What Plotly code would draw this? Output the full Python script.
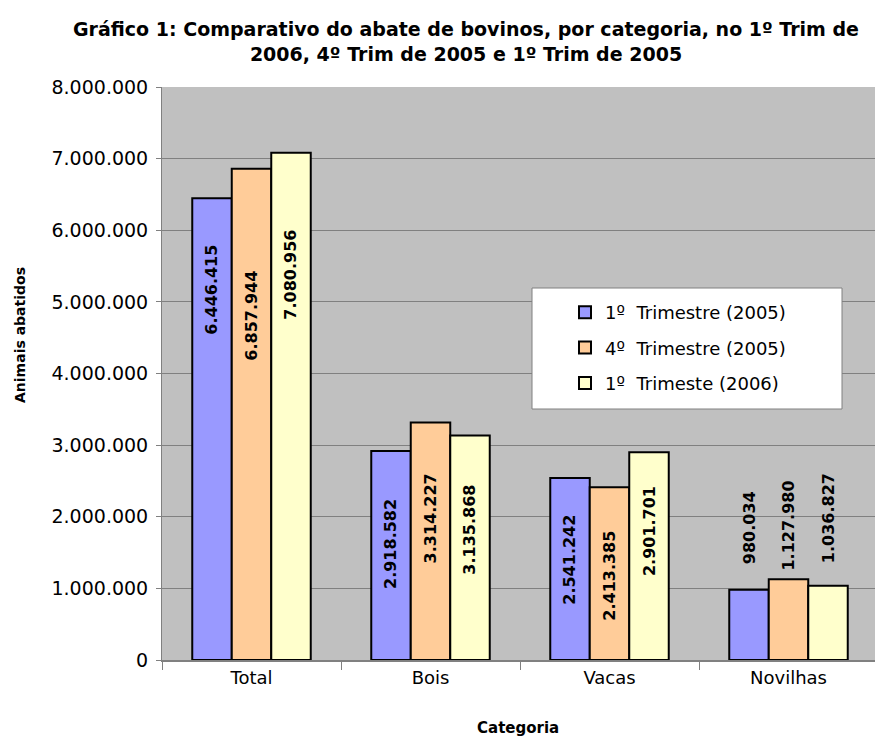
import plotly.graph_objects as go

categories = ["Total", "Bois", "Vacas", "Novilhas"]
series_names = ["1º  Trimestre (2005)", "4º  Trimestre (2005)", "1º  Trimeste (2006)"]
q1_2005 = [6446415, 2918582, 2541242, 980034]
q4_2005 = [6857944, 3314227, 2413385, 1127980]
q1_2006 = [7080956, 3135868, 2901701, 1036827]
colors = ["#9999FF", "#FFCC99", "#FFFFCC"]
y_ticks = [0, 1000000, 2000000, 3000000, 4000000, 5000000, 6000000, 7000000, 8000000]

# vertical centre of each value label (as placed in the reference), per series
label_centres = [
    [5170000, 1620000, 1400000, 1840000],
    [4800000, 1970000, 1170000, 1870000],
    [5380000, 1820000, 1800000, 1980000],
]

series = [q1_2005, q4_2005, q1_2006]
bargap = 0.338

W, H = 875, 738
PL, PR, PT, PB = 162, 875, 87, 660   # plot area in page pixels
px_per_cat = 179.0

def px(xp):
    return (xp - PL) / (PR - PL)

def py(yp):
    return (PB - yp) / (PB - PT)

fig = go.Figure()
for i, (name, vals, col) in enumerate(zip(series_names, series, colors)):
    fig.add_trace(go.Bar(
        x=categories, y=vals, name=name, legendgroup=f"g{i}",
        marker=dict(color=col, line=dict(color="black", width=2)),
    ))

def fmt(v):
    return f"{v:,}".replace(",", ".")

bw = (1 - bargap) / 3
for si, vals in enumerate(series):
    for ci, v in enumerate(vals):
        fig.add_annotation(
            x=ci + (si - 1) * bw, y=label_centres[si][ci], xref="x", yref="y",
            text="<b>" + fmt(v) + "</b>", textangle=-90, showarrow=False,
            font=dict(family="DejaVu Sans", size=16, color="black"),
        )

# axis titles
fig.add_annotation(
    x=px(20), y=py(335), xref="paper", yref="paper", text="<b>Animais abatidos</b>",
    textangle=-90, showarrow=False, xanchor="center", yanchor="middle",
    font=dict(family="DejaVu Sans", size=14, color="black"),
)
fig.add_annotation(
    x=px(518), y=py(728), xref="paper", yref="paper", text="<b>Categoria</b>",
    showarrow=False, xanchor="center", yanchor="middle",
    font=dict(family="DejaVu Sans", size=15, color="black"),
)

# legend box
fig.add_shape(
    type="rect", xref="paper", yref="paper",
    x0=px(532), x1=px(842), y0=py(409), y1=py(288),
    fillcolor="white", line=dict(color="#808080", width=1), layer="above",
)

x_right = 3.5 - (878 - PR) / px_per_cat

fig.update_layout(
    width=W, height=H,
    paper_bgcolor="white", plot_bgcolor="#C0C0C0",
    margin=dict(l=PL, r=W - PR, t=PT, b=H - PB, autoexpand=False),
    separators=",.",
    barmode="group", bargap=bargap, bargroupgap=0,
    title=dict(
        text="<b>Gráfico 1: Comparativo do abate de bovinos, por categoria, no 1º Trim de<br>2006, 4º Trim de 2005 e 1º Trim de 2005</b>",
        x=466 / W, xanchor="center", y=1 - 36 / H, yanchor="top",
        font=dict(family="DejaVu Sans", size=19, color="black"),
    ),
    yaxis=dict(
        range=[0, 8000000], tickvals=y_ticks, tickformat=",d",
        showgrid=True, gridcolor="#808080", gridwidth=1,
        ticks="outside", ticklen=5, tickcolor="#808080",
        showline=True, linecolor="#808080", linewidth=1,
        tickfont=dict(family="DejaVu Sans", size=19, color="black"),
        ticklabelstandoff=4,
        zeroline=False,
    ),
    xaxis=dict(
        range=[-0.5, x_right],
        tickson="boundaries", ticks="outside", ticklen=8, tickcolor="#808080",
        showline=True, linecolor="#808080", linewidth=2,
        tickfont=dict(family="DejaVu Sans", size=18, color="black"),
    ),
    legend=dict(
        x=px(565), y=py(294), xanchor="left", yanchor="top",
        bgcolor="rgba(0,0,0,0)", borderwidth=0,
        font=dict(family="DejaVu Sans", size=18, color="black"),
        traceorder="grouped", tracegroupgap=9,
    ),
    showlegend=True,
)
fig.write_html(
    "out.html",
    config={"displayModeBar": False},
    post_script="document.body.style.margin='0';document.body.style.overflow='hidden';",
)
